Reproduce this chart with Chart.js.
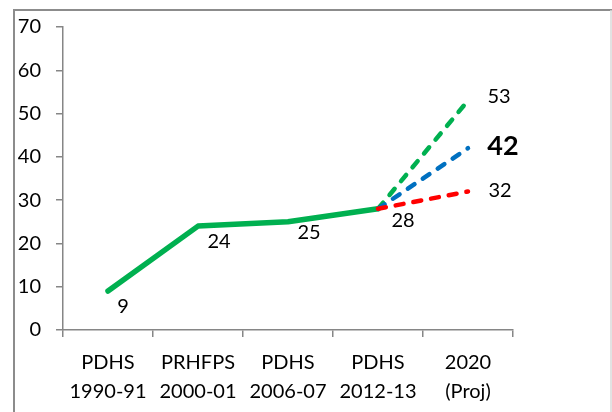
<!DOCTYPE html>
<html>
<head>
<meta charset="utf-8">
<script src="https://cdn.jsdelivr.net/npm/chart.js@4/dist/chart.umd.min.js"></script>
<style>
html,body{margin:0;padding:0;background:#fff;}
#wrap{position:relative;width:612px;height:412px;}
</style>
</head>
<body>
<div id="wrap"><canvas id="c" width="612" height="412"></canvas></div>
<script>
const categories = [["PDHS","1990-91"],["PRHFPS","2000-01"],["PDHS","2006-07"],["PDHS","2012-13"],["2020","(Proj)"]];
const actual   = [9, 24, 25, 28, null];
const projHigh = [null, null, null, 28, 53];
const projMid  = [null, null, null, 28, 42];
const projLow  = [null, null, null, 28, 32];
const yTicks = [0, 10, 20, 30, 40, 50, 60, 70];

const FONT = 'Lato, "Open Sans", sans-serif';
const GREEN = '#00B050', BLUE = '#0070C0', RED = '#FF0000', AXIS = '#868686';

// label placement per dataset: offsets from point, and which indices to label
const labelSpec = {
  0: {idx:[0,1,2,3], off:[[15,16],[21,15],[21,11],[25,12]], bold:false},
  1: {idx:[4], off:[[31,-4]], bold:false},
  2: {idx:[4], off:[[35,-2]], bold:true},
  3: {idx:[4], off:[[32,-1]], bold:false}
};

const framePlugin = {
  id:'frame',
  beforeDraw(chart){
    const ctx = chart.ctx;
    ctx.save();
    ctx.fillStyle = '#fff';
    ctx.fillRect(0,0,chart.width,chart.height);
    ctx.strokeStyle = '#8c8c8c';
    ctx.lineWidth = 2;
    ctx.beginPath();
    ctx.moveTo(14, 412);
    ctx.lineTo(14, 10);
    ctx.lineTo(612, 10);
    ctx.stroke();
    ctx.strokeStyle = '#d9d9d9';
    ctx.lineWidth = 1.5;
    ctx.beginPath();
    ctx.moveTo(611, 10);
    ctx.lineTo(611, 412);
    ctx.stroke();
    ctx.restore();
  }
};

const labelPlugin = {
  id:'vlabels',
  afterDatasetsDraw(chart){
    const ctx = chart.ctx;
    ctx.save();
    ctx.fillStyle = '#000';
    ctx.textAlign = 'center';
    ctx.textBaseline = 'middle';
    Object.keys(labelSpec).forEach(k=>{
      const di = +k;
      const spec = labelSpec[k];
      const meta = chart.getDatasetMeta(di);
      const data = chart.data.datasets[di].data;
      spec.idx.forEach((i,j)=>{
        const pt = meta.data[i];
        if(!pt) return;
        ctx.font = spec.bold ? 'bold 27px ' + FONT : '20px ' + FONT;
        ctx.fillText(String(data[i]), pt.x + spec.off[j][0], pt.y + spec.off[j][1]);
      });
    });
    ctx.restore();
  }
};

const dashCommon = {borderWidth:4.5, borderDash:[8,10], borderCapStyle:'round', pointRadius:0, fill:false, spanGaps:false};

new Chart(document.getElementById('c'), {
  type:'line',
  data:{
    labels: categories,
    datasets:[
      {label:'Actual', data:actual, borderColor:GREEN, borderWidth:5.5, borderCapStyle:'round', borderJoinStyle:'round', pointRadius:0, order:3},
      Object.assign({label:'High', data:projHigh, borderColor:GREEN, order:2}, dashCommon),
      Object.assign({label:'Mid', data:projMid, borderColor:BLUE, order:1}, dashCommon),
      Object.assign({label:'Low', data:projLow, borderColor:RED, order:0}, dashCommon)
    ]
  },
  options:{
    responsive:false,
    animation:false,
    events:[],
    layout:{padding:{left:0, right:99, top:24, bottom:0}},
    plugins:{legend:{display:false}, tooltip:{enabled:false}},
    scales:{
      x:{
        offset:true,
        grid:{display:true, drawOnChartArea:false, drawTicks:true, tickLength:7, color:AXIS, lineWidth:1.5, offset:true},
        border:{display:true, color:AXIS, width:1.5},
        ticks:{color:'#000', font:{family:FONT, size:20, lineHeight:1.45}, padding:11, maxRotation:0, autoSkip:false},
        afterFit(s){ s.height = 82; }
      },
      y:{
        min:0, max:70,
        afterBuildTicks(s){ s.ticks = yTicks.map(v=>({value:v})); },
        grid:{display:true, drawOnChartArea:false, drawTicks:true, tickLength:7, color:AXIS, lineWidth:1.5},
        border:{display:true, color:AXIS, width:1.5},
        ticks:{color:'#000', font:{family:FONT, size:20}, padding:15},
        afterFit(s){ s.width = 63; }
      }
    }
  },
  plugins:[framePlugin, labelPlugin]
});
</script>
</body>
</html>
